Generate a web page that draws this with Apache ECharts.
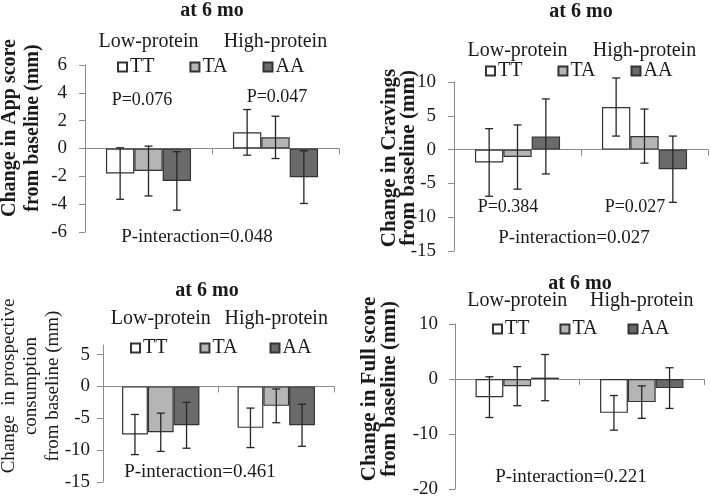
<!DOCTYPE html>
<html>
<head>
<meta charset="utf-8">
<script src="https://cdn.jsdelivr.net/npm/echarts@6/dist/echarts.min.js"></script>
<style>
  html, body { margin: 0; padding: 0; background: #fff; }
  #chart { width: 711px; height: 499px; }
</style>
</head>
<body>
<div id="chart"></div>
<script>
// 分组和基因型
var groups = ['Low-protein', 'High-protein'];
var genotypes = ['TT', 'TA', 'AA'];

// 每行一个基因型 (TT, TA, AA)，每列一个分组 (Low, High)
// App score
var appMean = [[-1.8, 1.16], [-1.62, 0.8], [-2.33, -2.06]];
var appErr = [[1.85, 1.64], [1.79, 1.52], [2.1, 1.89]];
// Cravings
var cravMean = [[-1.9, 6.3], [-1.1, 2.0], [1.95, -2.9]];
var cravErr = [[5.0, 4.3], [4.75, 4.0], [5.55, 4.9]];
// Prospective consumption
var prospMean = [[-7.55, -6.5], [-7.2, -3.05], [-6.1, -6.1]];
var prospErr = [[3.15, 3.1], [3.0, 2.65], [3.6, 3.3]];
// Full score
var fullMean = [[-3.3, -6.15], [-1.3, -4.2], [0.25, -1.65]];
var fullErr = [[3.7, 3.15], [3.55, 2.95], [4.2, 3.7]];

// 文字
var panelTitle = 'at 6 mo';
var yTitles = [
  'Change in App score\nfrom baseline (mm)',
  'Change in Cravings\nfrom baseline (mm)',
  'Change  in prospective\nconsumption\nfrom baseline (mm)',
  'Change in Full score\nfrom baseline (mm)'
];
var pInteraction = ['P-interaction=0.048', 'P-interaction=0.027', 'P-interaction=0.461', 'P-interaction=0.221'];
var pGroup = [['P=0.076', 'P=0.047'], ['P=0.384', 'P=0.027'], null, null];
// 第三个面板的刻度
var prospTicks = [-15, -10, -5, 0, 5];

// 颜色
var fills = ['#ffffff', '#b5b5b5', '#6a6a6a'];
var axisGray = '#8c8c8c';
var ink = '#1a1a1a';
var serif = '"Liberation Serif", "Times New Roman", serif';

// 面板布局
var panels = [
  { mean: appMean, err: appErr, grid: { left: 85, top: 65, width: 254, height: 167 },
    y: { min: -6, max: 6, interval: 2, margin: 18 }, catMargin: 13,
    legend: { left: 117, top: 57, gap: 35 },
    title: [212, 11], yTitle: [21, 128, 'bold 20px', 23],
    pPos: [[142, 100], [277, 97]], piPos: [197, 237] },
  { mean: cravMean, err: cravErr, grid: { left: 454, top: 82, width: 254, height: 169 },
    y: { min: -15, max: 10, interval: 5, margin: 18 }, catMargin: 21,
    legend: { left: 485, top: 61, gap: 35 },
    title: [581, 12], yTitle: [399, 158, 'bold 21px', 19],
    pPos: [[508, 207], [635, 207]], piPos: [574, 238] },
  { mean: prospMean, err: prospErr, grid: { left: 103, top: 345, width: 231, height: 137 },
    y: { min: -15, max: 6.5, interval: 5, margin: 13, ticks: prospTicks }, catMargin: 16,
    legend: { left: 130, top: 338, gap: 32 },
    title: [207, 291], yTitle: [31, 386, '19px', 22],
    pPos: null, piPos: [200, 472] },
  { mean: fullMean, err: fullErr, grid: { left: 455, top: 324, width: 249, height: 165 },
    y: { min: -20, max: 10, interval: 10, margin: 17 }, catMargin: 13,
    legend: { left: 492, top: 319, gap: 30 },
    title: [580, 284], yTitle: [380, 389, 'bold 21px', 20],
    pPos: null, piPos: [571, 477] }
];

var CAT_GAP = 0.33;

function errorBars(gi, si, means, errs) {
  return {
    type: 'custom',
    xAxisIndex: gi * 2,
    yAxisIndex: gi,
    z: 10,
    silent: true,
    data: means.map(function (m, k) { return [k, m - errs[k], m + errs[k]]; }),
    encode: { x: 0, y: [1, 2] },
    renderItem: function (params, api) {
      var lo = api.coord([api.value(0), api.value(1)]);
      var hi = api.coord([api.value(0), api.value(2)]);
      var band = api.size([1, 0])[0];
      var bw = band * (1 - CAT_GAP) / 3;
      var x = lo[0] + (si - 1) * bw;
      var cap = 4;
      var st = { stroke: '#262626', lineWidth: 1.3 };
      return {
        type: 'group',
        children: [
          { type: 'line', shape: { x1: x, y1: lo[1], x2: x, y2: hi[1] }, style: st },
          { type: 'line', shape: { x1: x - cap, y1: lo[1], x2: x + cap, y2: lo[1] }, style: st },
          { type: 'line', shape: { x1: x - cap, y1: hi[1], x2: x + cap, y2: hi[1] }, style: st }
        ]
      };
    }
  };
}

var grids = [], xAxes = [], yAxes = [], series = [], legends = [], graphics = [];

panels.forEach(function (p, gi) {
  grids.push(Object.assign({ containLabel: false, outerBoundsMode: 'none' }, p.grid));

  // 底部轴：零线
  xAxes.push({
    type: 'category', gridIndex: gi, data: groups,
    axisLine: { onZero: true, lineStyle: { color: axisGray, width: 1 } },
    axisTick: { show: true, alignWithLabel: false, interval: 0, length: 6, lineStyle: { color: axisGray } },
    axisLabel: { show: false }
  });
  // 顶部轴：分组名称
  xAxes.push({
    type: 'category', gridIndex: gi, data: groups, position: 'top',
    axisLine: { show: false, onZero: false },
    axisTick: { show: false },
    axisLabel: { interval: 0, hideOverlap: false, margin: p.catMargin, fontFamily: serif, fontSize: 20, color: ink }
  });

  var yLabel = { margin: p.y.margin, fontFamily: serif, fontSize: 19, color: ink };
  var yTick = { show: true, length: 6, lineStyle: { color: axisGray } };
  if (p.y.ticks) {
    yLabel.customValues = p.y.ticks;
    yTick.customValues = p.y.ticks;
  }
  yAxes.push({
    type: 'value', gridIndex: gi,
    min: p.y.min, max: p.y.max, interval: p.y.interval,
    axisLine: { show: true, lineStyle: { color: axisGray, width: 1 } },
    axisTick: yTick,
    axisLabel: yLabel,
    splitLine: { show: false }
  });

  genotypes.forEach(function (g, si) {
    series.push({
      name: g, type: 'bar',
      xAxisIndex: gi * 2, yAxisIndex: gi,
      data: p.mean[si],
      barGap: '0%', barCategoryGap: (CAT_GAP * 100) + '%',
      itemStyle: { color: fills[si], borderColor: '#333333', borderWidth: 1.2 },
      silent: true
    });
  });
  genotypes.forEach(function (g, si) {
    series.push(errorBars(gi, si, p.mean[si], p.err[si]));
  });

  legends.push({
    data: genotypes, left: p.legend.left, top: p.legend.top, padding: 0,
    itemWidth: 9, itemHeight: 9, itemGap: p.legend.gap, icon: 'rect',
    selectedMode: false,
    textStyle: { fontFamily: serif, fontSize: 20, color: ink, padding: [0, 0, 0, -2] }
  });

  graphics.push({
    type: 'text', x: p.title[0], y: p.title[1],
    style: { text: panelTitle, font: 'bold 20px ' + serif, fill: ink, textAlign: 'center', textVerticalAlign: 'middle' }
  });
  graphics.push({
    type: 'text', x: p.yTitle[0], y: p.yTitle[1], rotation: Math.PI / 2,
    style: { text: yTitles[gi], font: p.yTitle[2] + ' ' + serif, lineHeight: p.yTitle[3], fill: ink, textAlign: 'center', textVerticalAlign: 'middle' }
  });
  graphics.push({
    type: 'text', x: p.piPos[0], y: p.piPos[1],
    style: { text: pInteraction[gi], font: '19px ' + serif, fill: ink, textAlign: 'center', textVerticalAlign: 'middle' }
  });
  if (pGroup[gi]) {
    pGroup[gi].forEach(function (t, k) {
      graphics.push({
        type: 'text', x: p.pPos[k][0], y: p.pPos[k][1],
        style: { text: t, font: '18px ' + serif, fill: ink, textAlign: 'center', textVerticalAlign: 'middle' }
      });
    });
  }
});

var chart = echarts.init(document.getElementById('chart'), null, { renderer: 'canvas' });
chart.setOption({
  backgroundColor: '#ffffff',
  animation: false,
  grid: grids,
  xAxis: xAxes,
  yAxis: yAxes,
  legend: legends,
  graphic: graphics,
  series: series
});
</script>
</body>
</html>
